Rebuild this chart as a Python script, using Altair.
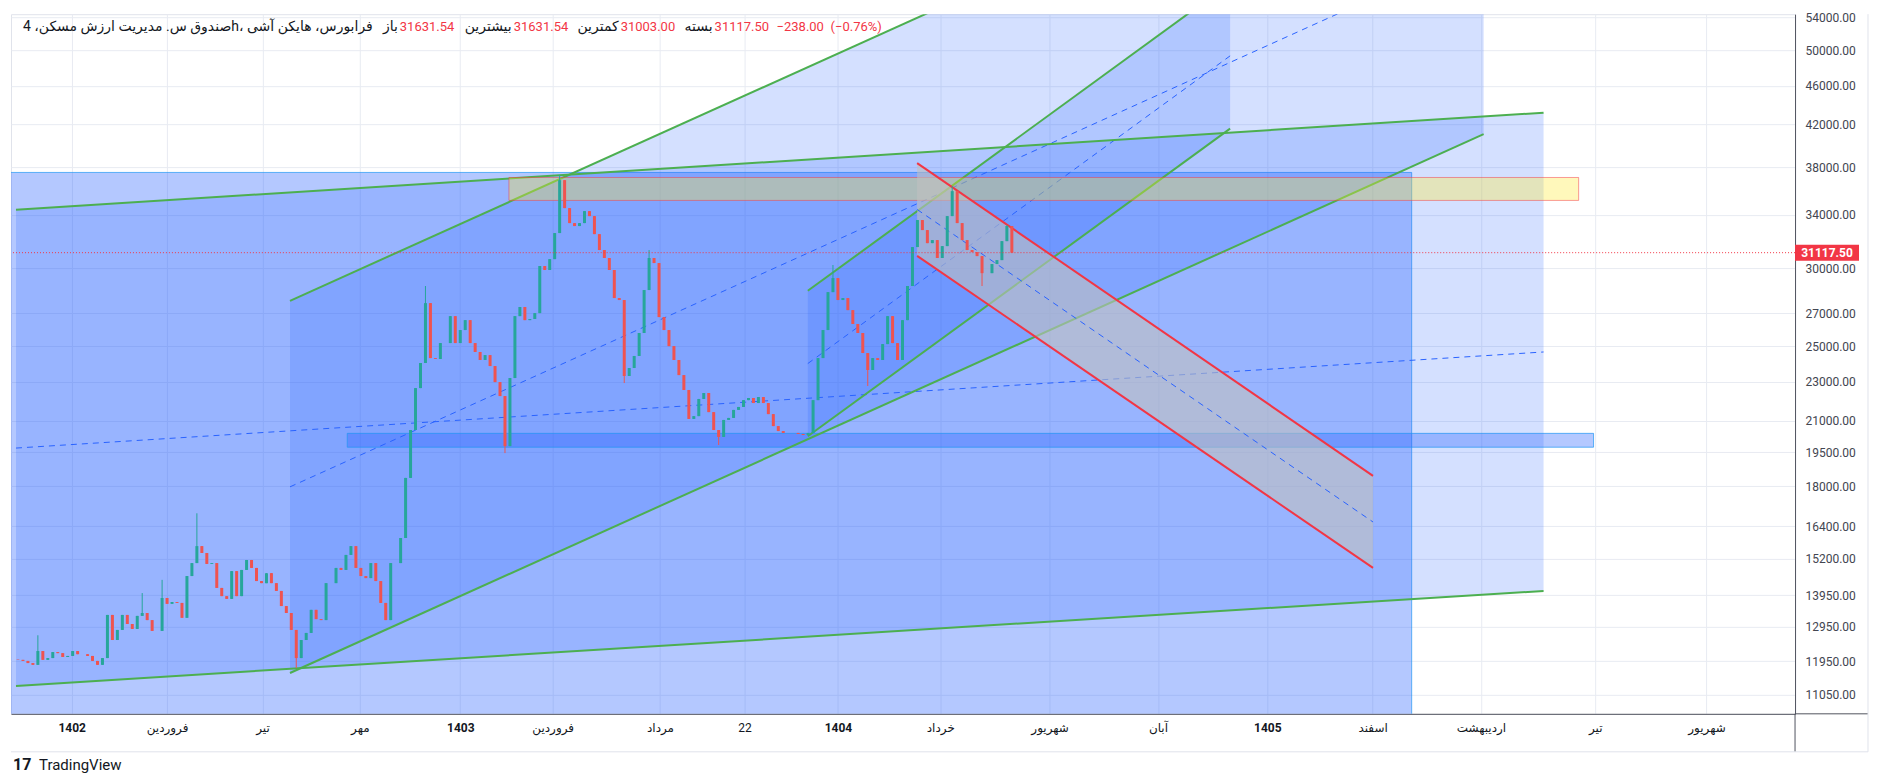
import altair as alt
import pandas as pd

# ---------------- data ----------------
closes = [11990, 11960, 11900, 11850, 12240, 11990, 12040, 12210, 12180, 12070,
          12100, 12240, 12150, 12150, 12100, 11960, 11850, 12040, 13320, 12560,
          12860, 13320, 13040, 12890, 13290, 13380, 13160, 12830, 12830, 13860,
          13670, 13730, 13700, 13230, 14590, 15040, 15650, 15400, 15010, 15040,
          14190, 13920, 13830, 14760, 13920, 14800, 15150, 14870, 14420, 14350,
          14690, 14350, 14090, 13600, 13380, 12860, 12040, 12560, 12770, 13480,
          13190, 13160, 14350, 14350, 14870, 14800, 15330, 15650, 14870, 14590,
          14520, 15040, 14420, 13700, 13160, 15040, 15040, 15950, 18360, 20540,
          22660, 24030, 27650, 24310, 24260, 25180, 25180, 26820, 25180, 25960,
          26570, 25180, 24660, 24200, 24480, 23860, 22980, 22240, 19780, 23200,
          26820, 27400, 26570, 26640, 27010, 30160, 29880, 30650, 32580, 36880,
          34540, 33350, 33120, 33350, 34300, 33900, 32500, 31310, 30730, 29880,
          27980, 27850, 23310, 23750, 24430, 25780, 28510, 30730, 30370, 26760,
          25960, 25000, 24200, 23360, 22560, 21080, 21220, 22090, 22400, 21420,
          20540, 20210, 21030, 21130, 21530, 21680, 22030, 22140, 21880, 22190,
          21880, 21320, 20730, 20490, 20400, 20400, 20400, 20350, 20300, 20400,
          22030, 24310, 25960, 28370, 29320, 27850, 27980, 27200, 26330, 25780,
          24600, 23640, 24310, 24200, 25120, 26820, 25180, 24200, 26570, 28780,
          31530, 33590, 32810, 31820, 32050, 30730, 31600, 33900, 35940, 33350,
          32050, 31310, 31160, 30870, 29660, 29660, 30300, 30580, 31970, 33120,
          31117.5]
first_open = 12000
spike_hi_bars = [4, 25, 29, 36, 82, 109, 127, 164, 188, 199]
spike_hi_vals = [12700, 14020, 14460, 16900, 28780, 37320, 31310, 30230, 36360, 33190]
spike_lo_bars = [56, 98, 122, 141, 171, 194]
spike_lo_vals = [11760, 19460, 22930, 19830, 22770, 28780]

x_tick_bars = [10.8, 30, 49.2, 68.8, 89, 107.6, 129.2, 146.2, 165, 185.6,
               207.6, 229.4, 251.4, 272.6, 294.4, 317.4, 339.8]
x_tick_labels = ["1402", "فروردین", "تیر", "مهر", "1403", "فروردین", "مرداد", "22",
                 "1404", "خرداد", "شهریور", "آبان", "1405", "اسفند", "اردیبهشت",
                 "تیر", "شهریور"]
x_year_bars = [10.8, 89, 165, 251.4]
y_ticks = [54000, 50000, 46000, 42000, 38000, 34000, 30000, 27000, 25000, 23000,
           21000, 19500, 18000, 16400, 15200, 13950, 12950, 11950, 11050]

# drawings: (bar, price) end points
big_ch_bars = [-0.4, 307.0]
big_ch_upper = [34400, 43190]
big_ch_lower = [11280, 14090]
big_ch_mid = [19690, 24660]

ch2_bars = [54.74, 294.94]
ch2_upper = [27800, 98160]
ch2_lower = [11626, 41070]
ch2_mid = [17980, 63530]

ch3_bars = [158.94, 243.92]
ch3_upper = [28460, 58500]
ch3_lower = [20240, 41610]
ch3_mid = [24000, 49340]

red_bars = [180.94, 272.68]
red_upper = [38380, 18450]
red_lower = [30890, 14870]
red_mid = [34430, 16560]

yellow_bars = [98.8, 314.06]
yellow_prices = [35170, 37110]
blue_bars = [66.26, 317.06]
blue_prices = [19730, 20380]
big_box_bars = [-3, 280.46]
big_box_prices = [9000, 37550]

last_price = 31117.5
last_label = "31117.50"

title_txt = "صندوق س. مدیریت ارزش مسکن، 4h، فرابورس، هایکن آشی"
ohlc_labels = ["باز", "بیشترین", "کمترین", "بسته"]
ohlc_values = ["31631.54", "31631.54", "31003.00", "31117.50"]
change_txt = "−238.00"
pct_txt = "(−0.76%)"

# ---------------- styling ----------------
W, H = 1785, 700
FONT = "Roboto, DejaVu Sans, sans-serif"
BLUE = "#2962ff"
GREEN = "#4caf50"
RED = "#f23645"
GRID = "#e8ebf2"
AXIS = "#50535e"

labels_js = ",".join("'" + s + "'" for s in x_tick_labels)
vals_js = ",".join(str(v) for v in x_tick_bars)
years_js = ",".join(str(v) for v in x_year_bars)

xscale = alt.Scale(domain=[-0.4, 356.6], nice=False, zero=False)
yscale = alt.Scale(type="log", domain=[10566, 54398], nice=False, zero=False)

xaxis = alt.Axis(values=x_tick_bars, title=None, grid=True, gridColor=GRID,
                 ticks=False, domainColor=AXIS, labelFont=FONT, labelFontSize=12,
                 labelColor="#131722", labelPadding=9, labelOverlap=False,
                 labelFlush=False,
                 labelExpr=f"[{labels_js}][indexof([{vals_js}], datum.value)]",
                 labelFontWeight={"condition": {"test": f"indexof([{years_js}], datum.value) >= 0",
                                                "value": "bold"}, "value": "normal"})
yaxis = alt.Axis(orient="right", values=y_ticks, format=".2f", title=None, grid=True,
                 gridColor=GRID, ticks=False, domainColor=AXIS, labelFont=FONT,
                 labelFontSize=12, labelColor="#434651", labelPadding=10,
                 labelOverlap=False)


def X(f):
    return alt.X(f + ":Q", scale=xscale, axis=xaxis)


def Y(f):
    return alt.Y(f + ":Q", scale=yscale, axis=yaxis)


def channel_area(bars, lo, hi, color, opacity):
    df = pd.DataFrame({"bar": bars, "lo": lo, "hi": hi})
    return alt.Chart(df).mark_area(color=color, opacity=opacity, clip=True).encode(
        x=X("bar"), y=Y("lo"), y2="hi")


def lines(segs, color, width, dash=None):
    rows = []
    for k, (bars, prices) in enumerate(segs):
        for b, p in zip(bars, prices):
            rows.append({"id": k, "bar": b, "price": p})
    kw = dict(color=color, strokeWidth=width, clip=True)
    if dash:
        kw["strokeDash"] = dash
    return alt.Chart(pd.DataFrame(rows)).mark_line(**kw).encode(
        x=X("bar"), y=Y("price"), detail="id:N")


def box(bars, prices, fill, opacity, stroke, stroke_opacity):
    df = pd.DataFrame({"b1": [bars[0]], "b2": [bars[1]], "p1": [prices[0]], "p2": [prices[1]]})
    return alt.Chart(df).mark_rect(fill=fill, fillOpacity=opacity, stroke=stroke,
                                   strokeOpacity=stroke_opacity, strokeWidth=1,
                                   clip=True).encode(
        x=X("b1"), x2="b2", y=Y("p1"), y2="p2")


dummy = pd.DataFrame({"a": [0]})


def label(txt, x, y, color, size=13, weight="normal", align="left"):
    return alt.Chart(dummy).mark_text(text=txt, align=align, baseline="middle",
                                      fontSize=size, fontWeight=weight, color=color,
                                      font=FONT).encode(x=alt.value(x), y=alt.value(y))


def frame_rule(x1, x2, y1, y2, color):
    return alt.Chart(dummy).mark_rule(color=color, strokeWidth=1).encode(
        x=alt.value(x1), x2=alt.value(x2), y=alt.value(y1), y2=alt.value(y2))


# ---------------- candles ----------------
opens = [first_open] + closes[:-1]
highs = [max(o, c) for o, c in zip(opens, closes)]
lows = [min(o, c) for o, c in zip(opens, closes)]
for b, v in zip(spike_hi_bars, spike_hi_vals):
    highs[b] = v
for b, v in zip(spike_lo_bars, spike_lo_vals):
    lows[b] = v
candles = pd.DataFrame({
    "bar": list(range(len(closes))),
    "open": opens, "close": closes, "high": highs, "low": lows,
    "dir": ["up" if c >= o else "down" for o, c in zip(opens, closes)],
})
ccol = alt.Color("dir:N", scale=alt.Scale(domain=["up", "down"], range=["#26a69a", "#ef5350"]),
                 legend=None)
wicks = alt.Chart(candles).mark_rule(strokeWidth=1).encode(
    x=X("bar"), y=Y("low"), y2="high", color=ccol)
bodies = alt.Chart(candles).mark_bar(size=3).encode(
    x=X("bar"), y=Y("open"), y2="close", color=ccol)

# ---------------- layers ----------------
layers = [
    box(big_box_bars, big_box_prices, BLUE, 0.35, "#2196f3", 0.7),
    channel_area(big_ch_bars, big_ch_lower, big_ch_upper, BLUE, 0.2),
    channel_area(ch2_bars, ch2_lower, ch2_upper, BLUE, 0.2),
    channel_area(ch3_bars, ch3_lower, ch3_upper, BLUE, 0.2),
    box(blue_bars, blue_prices, BLUE, 0.35, "#2196f3", 0.7),
    lines([(big_ch_bars, big_ch_mid), (ch2_bars, ch2_mid), (ch3_bars, ch3_mid)],
          BLUE, 1, [6, 5]),
    lines([(big_ch_bars, big_ch_upper), (big_ch_bars, big_ch_lower),
           (ch2_bars, ch2_upper), (ch2_bars, ch2_lower),
           (ch3_bars, ch3_upper), (ch3_bars, ch3_lower)], GREEN, 2),
    box(yellow_bars, yellow_prices, "#ffeb3b", 0.35, RED, 0.5),
    channel_area(red_bars, red_lower, red_upper, "#c0c0c0", 0.6),
    lines([(red_bars, red_mid)], BLUE, 1, [6, 5]),
    lines([(red_bars, red_upper), (red_bars, red_lower)], RED, 2),
    wicks,
    bodies,
]

price_df = pd.DataFrame({"price": [last_price], "lab": [last_label]})
layers.append(alt.Chart(price_df).mark_rule(color=RED, strokeWidth=1, strokeDash=[1, 2]).encode(
    y=Y("price")))
layers.append(alt.Chart(price_df).mark_point(
    shape="M-1,-0.25L1,-0.25L1,0.25L-1,0.25Z", size=4096, filled=True,
    color=RED, opacity=1).encode(x=alt.value(W + 32), y=Y("price")))
layers.append(alt.Chart(price_df).mark_text(color="white", fontSize=12, fontWeight="bold",
                                            font=FONT).encode(
    x=alt.value(W + 32), y=Y("price"), text="lab:N"))

# header legend: label (dark) followed by value (red)
hy = 13
layers.append(label(title_txt, 362, hy, "#131722", size=14, align="right"))
value_left = [389, 503, 610, 704]
for s, lab, val in zip(value_left, ohlc_labels, ohlc_values):
    layers.append(label(lab, s - 2, hy, "#131722", size=14, align="right"))
    layers.append(label(val, s, hy, RED, align="left"))
layers.append(label(change_txt, 766, hy, RED))
layers.append(label(pct_txt, 820, hy, RED))

# frame pieces
layers.append(frame_rule(W, W, H, H + 38, AXIS))
layers.append(frame_rule(W, W + 73, H, H, AXIS))
layers.append(frame_rule(W + 73, W + 73, 0, H + 38, "#e0e3eb"))
layers.append(frame_rule(0, W + 73, H + 38, H + 38, "#e0e3eb"))

# TradingView logo
layers.append(label("17", 2, 751, "#131722", size=16, weight="bold"))
layers.append(label("TradingView", 28, 751, "#131722", size=15))

chart = alt.layer(*layers).properties(
    width=W, height=H,
    padding={"left": 2, "top": 3, "right": 2, "bottom": 2},
    background="white",
).configure_view(stroke="#e0e3eb")

chart.save("out.html", embed_options={"renderer": "svg", "actions": False})
